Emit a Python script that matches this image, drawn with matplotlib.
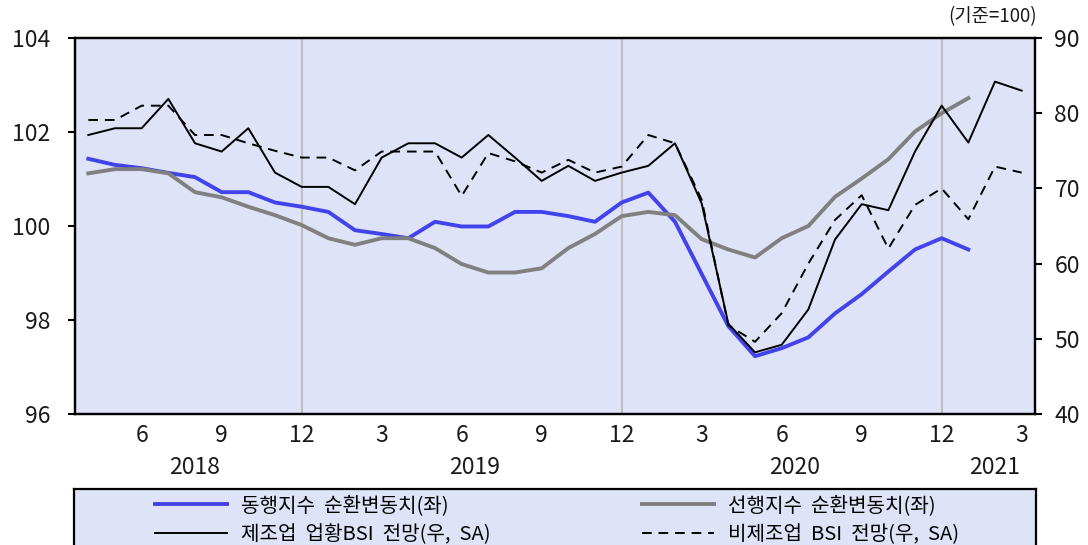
import matplotlib
matplotlib.use("Agg")
import matplotlib.pyplot as plt
from matplotlib.lines import Line2D
from matplotlib.transforms import blended_transform_factory

plt.rcParams['font.family'] = ['Noto Sans CJK KR', 'DejaVu Sans']

# Monthly axis: 2018.04 ~ 2021.03
years = [2018] * 9 + [2019] * 12 + [2020] * 12 + [2021] * 3
months = list(range(4, 13)) + list(range(1, 13)) * 2 + [1, 2, 3]

# Cyclical components (left axis, 2018.04 ~ 2021.01)
coincident = [101.43, 101.30, 101.23, 101.13, 101.04, 100.72, 100.72, 100.50, 100.41,
              100.30, 99.91, 99.83, 99.74, 100.09, 99.99, 99.99, 100.30, 100.30, 100.21,
              100.09, 100.50, 100.71, 100.09, 98.98, 97.87, 97.23, 97.40, 97.63, 98.14,
              98.55, 99.03, 99.50, 99.74, 99.50]
leading = [101.12, 101.21, 101.21, 101.12, 100.72, 100.61, 100.41, 100.23, 100.02,
           99.74, 99.60, 99.74, 99.74, 99.53, 99.19, 99.01, 99.01, 99.10, 99.53,
           99.83, 100.21, 100.30, 100.23, 99.72, 99.50, 99.33, 99.74, 100.00, 100.62,
           101.01, 101.42, 102.01, 102.40, 102.72]

# BSI outlook (right axis, 2018.04 ~ 2021.03)
bsi_mfg = [77.1, 78.0, 78.0, 81.9, 76.0, 74.9, 78.0, 72.1, 70.2, 70.2, 67.9, 74.1,
           76.0, 76.0, 74.1, 77.1, 74.1, 71.0, 73.0, 71.0, 72.1, 73.0, 76.0, 68.0,
           52.0, 48.2, 49.2, 53.9, 63.2, 67.9, 67.1, 74.9, 81.0, 76.1, 84.2, 83.0]
bsi_nonmfg = [79.1, 79.1, 81.0, 81.0, 77.1, 77.1, 76.0, 75.0, 74.1, 74.1, 72.4, 74.9,
              74.9, 74.9, 69.0, 74.7, 73.6, 72.1, 73.8, 72.1, 72.9, 77.1, 76.0, 68.5,
              51.8, 49.6, 53.4, 60.0, 65.8, 69.1, 62.0, 67.8, 70.0, 65.9, 72.9, 72.1]

labels = ['동행지수  순환변동치(좌)', '선행지수  순환변동치(좌)',
          '제조업  업황BSI  전망(우,  SA)', '비제조업  BSI  전망(우,  SA)']

BG = '#DFE3F7'
BLUE = '#4343EC'
GRAY = '#808080'
TXT = '#1a1a1a'
DASH = (0, (5, 3.5))
FS = 16.5

fig = plt.figure(figsize=(10.88, 5.45), dpi=100)
ax = fig.add_axes([75 / 1088, 1 - 414 / 545, 960 / 1088, 376 / 545])
ax.set_facecolor(BG)
ax2 = ax.twinx()

x = list(range(len(months)))

# December separators
for i, m in enumerate(months):
    if m == 12:
        ax.axvline(i, color='#BEBEBE', lw=1.5, zorder=1)

ax.plot(x[:len(coincident)], coincident, color=BLUE, lw=2.8, zorder=3)
ax.plot(x[:len(leading)], leading, color=GRAY, lw=2.8, zorder=3)
ax2.plot(x, bsi_mfg, color='black', lw=1.4, zorder=4)
ax2.plot(x, bsi_nonmfg, color='black', lw=1.4, ls=DASH, zorder=4)

ax.set_xlim(-0.5, len(months) - 0.5)
ax.set_ylim(96, 104)
ax.set_yticks([96, 98, 100, 102, 104])
ax2.set_ylim(40, 90)
ax2.set_yticks([40, 50, 60, 70, 80, 90])

tick_pos = [i for i, m in enumerate(months) if m % 3 == 0]
ax.set_xticks(tick_pos)
ax.set_xticklabels([str(months[i]) for i in tick_pos])
ax.tick_params(axis='x', length=0, pad=7, labelsize=FS, colors=TXT)
ax.tick_params(axis='y', direction='out', length=5, width=1.5, pad=13,
               labelsize=FS, labelcolor=TXT)
ax2.tick_params(axis='y', direction='out', length=5, width=1.5, pad=9,
                labelsize=FS, labelcolor=TXT)

for a in (ax, ax2):
    for s in a.spines.values():
        s.set_linewidth(1.6)
        s.set_color('black')

# Year labels centred under each year's months
trans = blended_transform_factory(ax.transData, ax.transAxes)
for yr in sorted(set(years)):
    idx = [i for i, y in enumerate(years) if y == yr]
    ax.text(sum(idx) / len(idx), -0.142, str(yr), transform=trans,
            ha='center', va='center', fontsize=FS, color=TXT)

fig.text(1037 / 1088, 1 - 17 / 545, '(기준=100)', ha='right', va='center',
         fontsize=13.5, color=TXT)

# Legend panel
lax = fig.add_axes([74 / 1088, -0.04, 962 / 1088, 1 - 489 / 545 + 0.04])
lax.set_facecolor(BG)
lax.set_xticks([])
lax.set_yticks([])
for s in lax.spines.values():
    s.set_linewidth(1.6)
    s.set_color('black')

handles = [Line2D([], [], color=BLUE, lw=2.8),
           Line2D([], [], color='black', lw=1.4),
           Line2D([], [], color=GRAY, lw=2.8),
           Line2D([], [], color='black', lw=1.4, ls=DASH)]
order = [labels[0], labels[2], labels[1], labels[3]]
fig.legend(handles, order, ncol=2, loc='center',
           bbox_to_anchor=(557 / 1088, 1 - 520 / 545), bbox_transform=fig.transFigure,
           frameon=False, fontsize=14.5, handlelength=3.6, handletextpad=0.7,
           columnspacing=7.5, labelspacing=0.4, borderpad=0)

fig.savefig('out.png', dpi=100)
